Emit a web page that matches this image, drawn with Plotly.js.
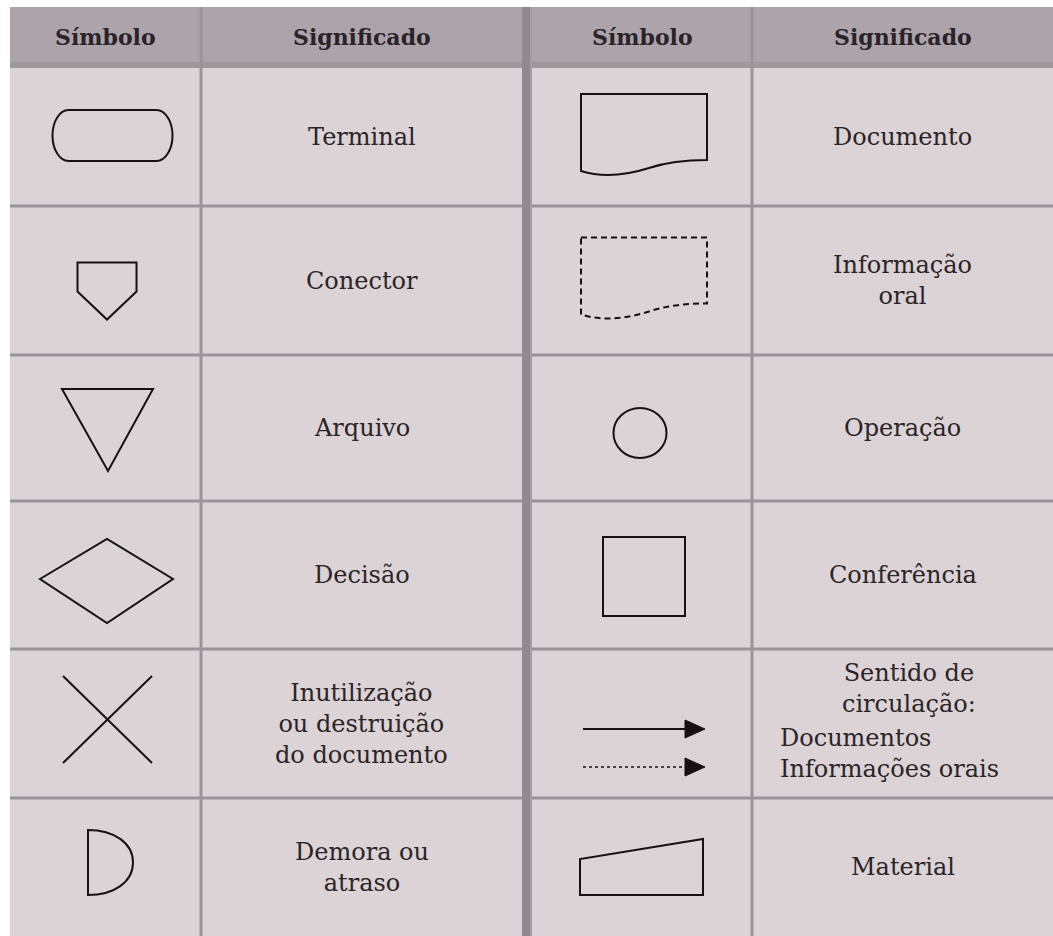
<!DOCTYPE html>
<html>
<head>
<meta charset="utf-8">
<script src="https://cdn.plot.ly/plotly-3.0.1.min.js"></script>
<style>
  html, body { margin: 0; padding: 0; background: #ffffff; }
  #chart { width: 1053px; height: 936px; }
</style>
</head>
<body>
<div id="chart"></div>
<script>
// ---------- DATA ----------
const headers = ["Símbolo", "Significado", "Símbolo", "Significado"];
const leftSymbols = ["terminal", "connector", "file", "decision", "destroy", "delay"];
const leftMeanings = ["Terminal", "Conector", "Arquivo", "Decisão",
  "Inutilização<br>ou destruição<br>do documento", "Demora ou<br>atraso"];
const rightSymbols = ["document", "oralInfo", "operation", "check", "flow", "material"];
const rightMeanings = ["Documento", "Informação<br>oral", "Operação", "Conferência",
  "Sentido de<br>circulação:", "Material"];
const flowLegend = ["Documentos", "Informações orais"];

// ---------- LAYOUT GRID (axis units = pixels of the picture) ----------
const W = 1053, H = 936;
const colEdges = [10, 201, 522, 532, 752, 1053];   // sym | meaning | divider | sym | meaning
const rowEdges = [7, 68, 206, 355, 501, 649, 798, 936]; // header + 6 rows

const BODY = "#dbd3d6", HEAD = "#aca3ab", HEADBAND = "#9f989b";
const GRID = "#9a9397", DIV = "#8e8a8f", INK = "#161214", TXT = "#2b2426";
const FONT = "DejaVu Serif";

const shapes = [];
const annotations = [];

function rect(x0, y0, x1, y1, fill) {
  shapes.push({type: "rect", xref: "x", yref: "y", x0, y0, x1, y1,
    fillcolor: fill, line: {width: 0}, layer: "below"});
}
function line(x0, y0, x1, y1, color, width, dash) {
  shapes.push({type: "line", xref: "x", yref: "y", x0, y0, x1, y1,
    line: {color, width, dash: dash || "solid"}, layer: "below"});
}
function path(d, opts) {
  opts = opts || {};
  shapes.push({type: "path", xref: "x", yref: "y", path: d,
    fillcolor: opts.fill || "rgba(0,0,0,0)",
    line: {color: INK, width: opts.width || 2, dash: opts.dash || "solid"}});
}
function poly(cx, cy, pts, opts) {
  const d = pts.map((p, i) => (i ? "L" : "M") + (cx + p[0]) + "," + (cy + p[1])).join(" ") + " Z";
  path(d, opts);
}

// ---------- BACKGROUND & GRID ----------
rect(colEdges[0], rowEdges[1], W, H, BODY);
rect(colEdges[0], rowEdges[0], W, rowEdges[1], HEAD);
rect(colEdges[0], rowEdges[1] - 6, W, rowEdges[1], HEADBAND);
// row lines
for (let i = 2; i < rowEdges.length - 1; i++) {
  line(colEdges[0], rowEdges[i], W, rowEdges[i], GRID, 3);
}
// column lines
line(colEdges[1], rowEdges[0], colEdges[1], H, GRID, 3);
line(colEdges[4], rowEdges[0], colEdges[4], H, GRID, 3);
// central divider
rect(colEdges[2], rowEdges[0], colEdges[3], H, DIV);
line(colEdges[3] - 1, rowEdges[0], colEdges[3] - 1, H, "#a9a5ab", 1.5);

// ---------- SYMBOL TEMPLATES (offsets from cell centre) ----------
const K = 0.5523;
const drawers = {
  terminal(cx, cy) {
    const x0 = cx - 53, x1 = cx + 67, y0 = cy - 27, y1 = cy + 24;
    const my = (y0 + y1) / 2, ry = (y1 - y0) / 2, rx = 16;
    path(`M${x0 + rx},${y0} L${x1 - rx},${y0} C${x1 - rx + K * rx},${y0} ${x1},${my - K * ry} ${x1},${my} ` +
         `C${x1},${my + K * ry} ${x1 - rx + K * rx},${y1} ${x1 - rx},${y1} L${x0 + rx},${y1} ` +
         `C${x0 + rx - K * rx},${y1} ${x0},${my + K * ry} ${x0},${my} C${x0},${my - K * ry} ${x0 + rx - K * rx},${y0} ${x0 + rx},${y0} Z`);
  },
  connector(cx, cy) {
    poly(cx, cy, [[-28, -18], [31, -18], [31, 11], [1.5, 39], [-28, 11]]);
  },
  file(cx, cy) {
    poly(cx, cy, [[-43.5, -39], [47.5, -39], [2.5, 43]]);
  },
  decision(cx, cy) {
    poly(cx, cy, [[-65.5, 4], [1.5, -36], [67.5, 4], [1.5, 48]]);
  },
  destroy(cx, cy) {
    line(cx - 42.5, cy - 47.5, cx + 46.5, cy + 39.5, INK, 2);
    line(cx + 46.5, cy - 47.5, cx - 42.5, cy + 39.5, INK, 2);
    shapes[shapes.length - 1].layer = "above";
    shapes[shapes.length - 2].layer = "above";
  },
  delay(cx, cy) {
    const x = cx - 17.5, t = cy - 37, b = cy + 28, m = (t + b) / 2;
    path(`M${x},${t} C${x + 26},${t} ${x + 45},${t + 13} ${x + 45},${m} C${x + 45},${b - 13} ${x + 26},${b} ${x},${b} Z`);
  },
  document(cx, cy, dash) {
    const x0 = cx - 61, x1 = cx + 65, t = cy - 43;
    path(`M${x0},${t} L${x1},${t} L${x1},${cy + 23} C${x1 - 20},${cy + 23} ${x1 - 40},${cy + 25} ${x1 - 58},${cy + 31} ` +
         `C${x1 - 80},${cy + 38} ${x0 + 22},${cy + 41} ${x0},${cy + 34} Z`, {dash: dash});
  },
  oralInfo(cx, cy) {
    drawers.document(cx, cy, "6px,4px");
  },
  operation(cx, cy) {
    shapes.push({type: "circle", xref: "x", yref: "y",
      x0: cx - 28.5, x1: cx + 24.5, y0: cy - 20, y1: cy + 30,
      line: {color: INK, width: 2}, fillcolor: "rgba(0,0,0,0)"});
  },
  check(cx, cy) {
    poly(cx, cy, [[-39, -38], [43, -38], [43, 41], [-39, 41]]);
  },
  flow(cx, cy) {
    const x0 = cx - 59, xb = cx + 43, xt = cx + 63;
    [[5.5, "solid", 2], [43.5, "3px,3px", 1.5]].forEach(([dy, dash, w]) => {
      line(x0, cy + dy, xb, cy + dy, INK, w, dash);
      shapes[shapes.length - 1].layer = "above";
      poly(cx, cy, [[xb - cx, dy - 9], [xt - cx, dy], [xb - cx, dy + 9]], {fill: INK, width: 1});
    });
  },
  material(cx, cy) {
    poly(cx, cy, [[-62, 28], [-62, -8], [61, -28], [61, 28]]);
  }
};

// ---------- HEADERS ----------
const headCols = [[colEdges[0], colEdges[1]], [colEdges[1], colEdges[2]],
                  [colEdges[3], colEdges[4]], [colEdges[4], W]];
headers.forEach((h, i) => {
  annotations.push({x: (headCols[i][0] + headCols[i][1]) / 2, y: 37, xref: "x", yref: "y",
    text: h, showarrow: false, xanchor: "center", yanchor: "middle",
    font: {family: FONT, size: 22, color: "#2a2328", weight: "bold"}});
});

// ---------- BODY ROWS ----------
function addSide(symbols, meanings, symCol, meanCol) {
  symbols.forEach((s, i) => {
    const cy = (rowEdges[i + 1] + rowEdges[i + 2]) / 2;
    const cx = (symCol[0] + symCol[1]) / 2;
    drawers[s](cx, cy);
    const m = meanings[i];
    const isFlow = s === "flow";
    annotations.push({x: (meanCol[0] + meanCol[1]) / 2 + (isFlow ? 6 : 0),
      y: isFlow ? cy - 35 : cy, xref: "x", yref: "y",
      text: m, showarrow: false, xanchor: "center", yanchor: "middle", align: "center",
      font: {family: FONT, size: 24, color: TXT}});
    if (isFlow) {
      annotations.push({x: meanCol[0] + 26, y: cy + 30, xref: "x", yref: "y",
        text: flowLegend.join("<br>"), showarrow: false, xanchor: "left", yanchor: "middle", align: "left",
        font: {family: FONT, size: 24, color: TXT}});
    }
  });
}
addSide(leftSymbols, leftMeanings, [colEdges[0], colEdges[1]], [colEdges[1], colEdges[2]]);
addSide(rightSymbols, rightMeanings, [colEdges[3], colEdges[4]], [colEdges[4], W]);

const layout = {
  width: W, height: H,
  margin: {l: 0, r: 0, t: 0, b: 0, pad: 0},
  paper_bgcolor: "#ffffff", plot_bgcolor: "#ffffff",
  showlegend: false,
  xaxis: {range: [0, W], visible: false, fixedrange: true},
  yaxis: {range: [H, 0], visible: false, fixedrange: true},
  shapes, annotations
};

Plotly.newPlot("chart", [{x: [], y: [], type: "scatter", mode: "markers", hoverinfo: "skip"}],
  layout, {staticPlot: true, displayModeBar: false});
</script>
</body>
</html>
